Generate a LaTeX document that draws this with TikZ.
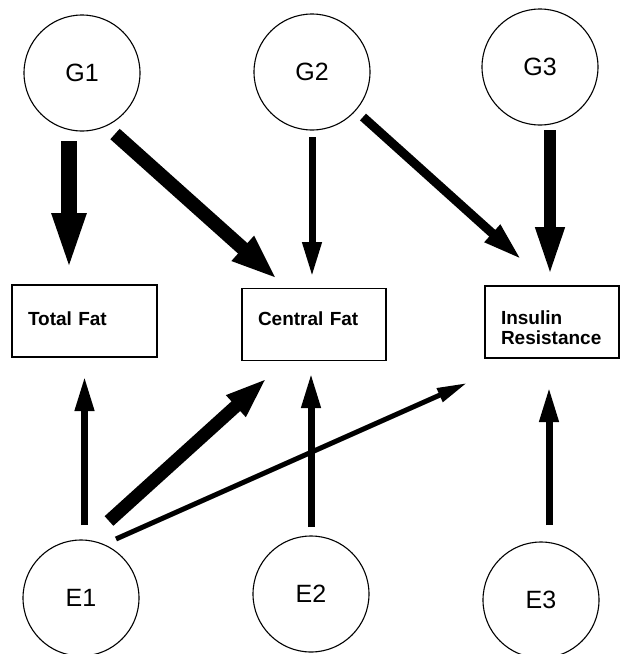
\documentclass[tikz,border=0pt]{standalone}
\usepackage{fontspec}
\setmainfont{Liberation Sans}
\usetikzlibrary{arrows.meta}
\begin{document}
\begin{tikzpicture}[x=1pt,y=-1pt,
  latent/.style={circle,draw,line width=1.1pt,minimum size=116pt,inner sep=0pt,
    font=\fontsize{25}{27}\selectfont},
  observed/.style={rectangle,draw,line width=1.4pt,minimum height=72pt,inner xsep=16pt,
    align=left,font=\fontsize{19}{19.5}\selectfont\bfseries},
  heavy/.style={line width=16pt,-{Triangle[length=60pt,width=30pt]}},
  thick1/.style={line width=14pt,-{Triangle[length=46pt,width=30pt]}},
  thick2/.style={line width=13pt,-{Triangle[length=42pt,width=26pt]}},
  mid1/.style={line width=12pt,-{Triangle[length=50pt,width=26pt]}},
  mid2/.style={line width=9pt,-{Triangle[length=40pt,width=21pt]}},
  thin1/.style={line width=7pt,-{Triangle[length=35pt,width=18pt]}},
  thin2/.style={line width=5pt,-{Triangle[length=30pt,width=14pt]}}
]
\useasboundingbox (0,0) rectangle (621,654);
\node[latent] (G1) at (82,73) {G1};
\node[latent] (G2) at (312,72) {G2};
\node[latent] (G3) at (540,67) {G3};
\node[latent] (E1) at (81,598) {E1};
\node[latent] (E2) at (311,594) {E2};
\node[latent] (E3) at (541,600) {E3};
\node[observed,text width=113pt] (TF) at (84.5,321) {Total Fat\rule[-4pt]{0pt}{4pt}};
\node[observed,text width=112pt] (CF) at (314,324.5) {Central Fat\rule[-12pt]{0pt}{12pt}};
\node[observed,text width=102pt] (IR) at (552,322) {\rule{0pt}{25pt}Insulin\\Resistance};

\draw[heavy] ([shift={(-13,68)}]G1.center) -- ([shift={(-15.5,-48)}]TF.center);
\draw[thick1] ([shift={(33,61)}]G1.center) -- ([shift={(-37,-45.5)}]CF.center);
\draw[thin1] ([shift={(0,65)}]G2.center) -- ([shift={(-2,-47.5)}]CF.center);
\draw[mid2] ([shift={(51,45)}]G2.center) -- ([shift={(-30,-62)}]IR.center);
\draw[mid1] ([shift={(10,63)}]G3.center) -- ([shift={(-2,-45)}]IR.center);
\draw[thin1] ([shift={(3.5,-73)}]E1.center) -- ([shift={(0,55)}]TF.center);
\draw[thick2] ([shift={(28,-77)}]E1.center) -- ([shift={(-47,53.5)}]CF.center);
\draw[thin2] ([shift={(35,-59)}]E1.center) -- ([shift={(-85,61)}]IR.center);
\draw[thin1] ([shift={(0,-67)}]E2.center) -- ([shift={(-3,48.5)}]CF.center);
\draw[thin1] ([shift={(8,-75)}]E3.center) -- ([shift={(-3,65)}]IR.center);
\end{tikzpicture}
\end{document}
